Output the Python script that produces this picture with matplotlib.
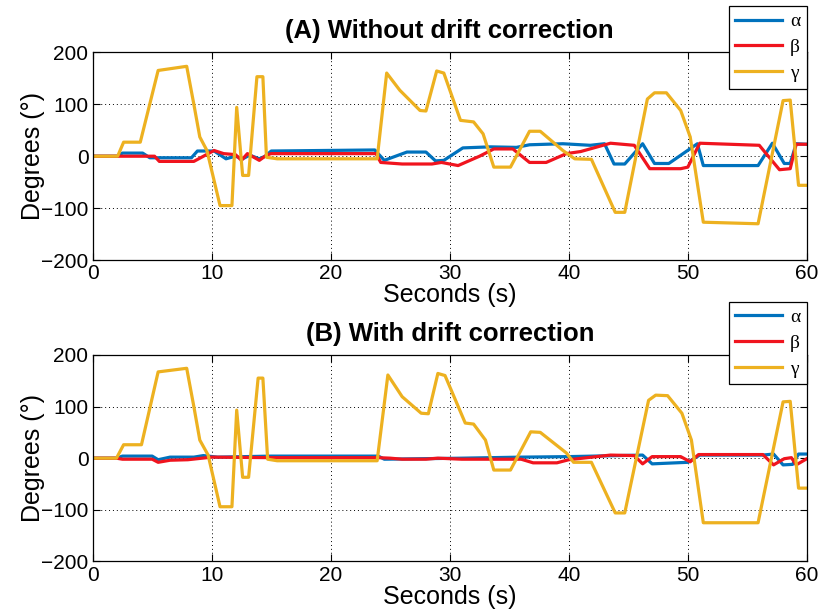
import numpy as np
import matplotlib
matplotlib.use("Agg")
import matplotlib.pyplot as plt

plt.rcParams['font.family'] = ['Liberation Sans', 'DejaVu Sans']

# ---- (A) without drift correction: breakpoints ----
a_alpha_t = [0, 2.1, 2.5, 4.2, 4.8, 8.3, 8.8, 10.2, 11.2, 12.0, 12.6, 13.2, 14.0, 14.5, 15.0,
             23.7, 24.5, 26.4, 28.0, 28.8, 29.5, 31.1, 33.4, 35.6, 36.7, 39.5, 41.8, 43.0,
             43.8, 44.7, 46.2, 47.2, 48.4, 50.8, 51.3, 55.9, 57.1, 58.1, 58.6, 59.1, 60]
a_alpha_v = [0, 0, 6, 6, -3, -3, 10, 10, -5, 0, -5, 2, -5, 0, 10,
             12, -8, 8, 8, -9, -8, 16, 18, 17, 22, 24, 21, 24,
             -15, -15, 24, -14, -14, 24, -18, -18, 25, -14, -14, 24, 23]

a_beta_t = [0, 2.1, 5.2, 5.6, 8.5, 10.2, 11.0, 12.0, 12.5, 13.0, 14.0, 14.6, 15.0,
            23.8, 24.2, 26.0, 28.5, 29.3, 30.7, 32.5, 33.7, 35.3, 36.7, 38.1, 39.8, 41.0,
            43.5, 45.5, 46.8, 49.4, 50.0, 51.0, 56.0, 57.7, 58.6, 59.1, 60]
a_beta_v = [0, 0, 0, -10, -10, 11, 5, 3, -8, 5, -8, 2, 5,
            5, -12, -15, -15, -12, -18, 0, 14, 14, -12, -12, 5, 9,
            25, 21, -24, -24, -21, 25, 21, -26, -24, 23, 23]

a_gamma_t = [0, 2.1, 2.6, 4.0, 5.5, 7.9, 8.5, 9.0, 9.6, 10.7, 11.7, 12.1, 12.6, 13.1, 13.8, 14.3,
             14.6, 15.5, 23.9, 24.7, 25.8, 27.5, 28.0, 28.9, 29.5, 30.9, 32.0, 32.8,
             33.7, 35.1, 36.7, 37.6, 39.5, 40.5, 41.9, 43.9, 44.7, 46.6, 47.2, 48.2,
             49.4, 50.2, 51.3, 55.9, 58.0, 58.6, 59.3, 60]
a_gamma_v = [0, 0, 27, 27, 165, 173, 100, 37, 11, -95, -95, 94, -37, -37, 153, 153,
             -2, -5, -5, 160, 127, 88, 87, 164, 160, 69, 66, 43,
             -21, -21, 48, 48, 11, -5, -6, -108, -108, 110, 122, 122,
             88, 37, -127, -130, 107, 108, -56, -56]

# ---- (B) with drift correction ----
b_alpha_t = [0, 2.0, 2.5, 5.0, 5.5, 6.5, 8.5, 9.3, 10.5, 15.0, 24.0, 24.5, 31.0, 36.0, 40.0,
             46.2, 47.0, 50.0, 51.0, 56.3, 57.2, 58.0, 58.8, 59.3, 60]
b_alpha_v = [0, 0, 4, 4, -3, 2, 2, 5, 2, 4, 4, -2, 0, 2, 3,
             6, -11, -8, 6, 6, 8, -13, -12, 8, 8]

b_beta_t = [0, 2.0, 2.5, 5.0, 5.5, 6.5, 8.0, 10.0, 15.0, 24.0, 25.0, 26.0, 28.0, 29.0, 31.0,
            36.0, 37.0, 39.0, 40.0, 43.5, 45.5, 46.2, 47.0, 49.4, 50.2, 50.9, 56.3, 57.2,
            58.1, 58.7, 59.1, 60]
b_beta_v = [0, 0, -2, -2, -8, -4, -3, 2, 1, 1, 0, -2, -2, 0, -2,
            -2, -9, -9, -3, 6, 5, -11, 3, 3, -7, 7, 7, -13,
            -1, 1, -13, -1]

b_gamma_t = [0, 2.0, 2.6, 4.1, 5.5, 7.9, 8.5, 9.0, 9.7, 10.7, 11.7, 12.1, 12.6, 13.1, 13.9, 14.3,
             14.7, 15.5, 23.9, 24.8, 26.0, 27.6, 28.2, 29.0, 29.6, 31.3, 32.0, 33.0,
             33.7, 35.1, 36.8, 37.6, 39.8, 40.4, 41.9, 43.9, 44.7, 46.7, 47.3, 48.3,
             49.5, 50.3, 51.3, 55.9, 58.0, 58.6, 59.3, 60]
b_gamma_v = [0, 0, 26, 26, 167, 174, 100, 35, 6, -94, -94, 93, -37, -37, 155, 155,
             -2, -5, -5, 161, 119, 87, 86, 164, 160, 68, 66, 35,
             -23, -23, 51, 50, 10, -8, -8, -106, -106, 112, 122, 121,
             87, 35, -125, -125, 109, 110, -58, -58]

titles = ['(A) Without drift correction', '(B) With drift correction']
labels = ['α', 'β', 'γ']
colors = ['#0072BD', '#F0141E', '#EDB120']

panels = [
    [(a_alpha_t, a_alpha_v), (a_beta_t, a_beta_v), (a_gamma_t, a_gamma_v)],
    [(b_alpha_t, b_alpha_v), (b_beta_t, b_beta_v), (b_gamma_t, b_gamma_v)],
]

fig = plt.figure(figsize=(8.2, 6.15), dpi=100)
axes = [fig.add_axes([0.113, 0.577, 0.871, 0.338]),
        fig.add_axes([0.113, 0.087, 0.871, 0.336])]
legend_y = [1.223, 1.258]

for ax, series, title, ly in zip(axes, panels, titles, legend_y):
    for (t, v), lab, col in zip(series, labels, colors):
        ax.plot(t, v, color=col, lw=2.3, label=lab, solid_joinstyle='round')
    ax.set_xlim(0, 60)
    ax.set_ylim(-200, 200)
    ax.set_xticks(np.arange(0, 61, 10))
    ax.set_yticks(np.arange(-200, 201, 100))
    ax.grid(True, color='black', linestyle=(0, (1, 3)), linewidth=0.7)
    ax.tick_params(direction='in', top=True, right=True, labelsize=15, length=5, pad=3)
    for sp in ax.spines.values():
        sp.set_linewidth(0.9)
    ax.set_title(title, fontsize=18.5, fontweight='bold', pad=10)
    ax.set_xlabel('Seconds (s)', fontsize=18, labelpad=0)
    ax.set_ylabel('Degrees (°)', fontsize=18, labelpad=-3)
    leg = ax.legend(loc='upper right', bbox_to_anchor=(1.0, ly), borderaxespad=0,
                    fancybox=False, edgecolor='black', framealpha=1,
                    prop={'family': 'Liberation Serif', 'size': 14},
                    handlelength=2.4, labelspacing=0.42, borderpad=0.35, handletextpad=0.4)
    leg.get_frame().set_linewidth(0.9)
    leg.set_zorder(10)

fig.savefig('out.png', dpi=100)
